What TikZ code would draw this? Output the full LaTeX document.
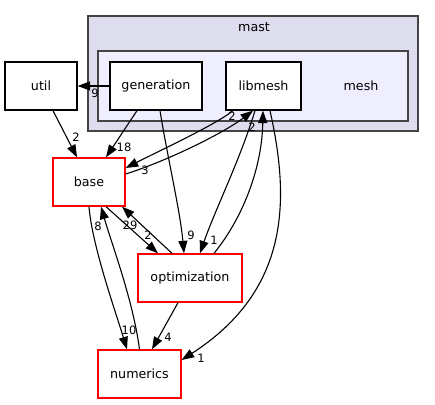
\documentclass[tikz,border=0pt]{standalone}
\usepackage{fontspec}
\setmainfont{DejaVu Sans}
\usetikzlibrary{arrows.meta,calc}
\definecolor{mastfill}{HTML}{DDDDEE}
\definecolor{meshfill}{HTML}{EEEEFF}
\definecolor{clborder}{HTML}{444444}
\begin{document}
\begin{tikzpicture}[x=1pt,y=-1pt,
  dirbox/.style={draw=black,line width=1.3pt,fill=white,minimum height=48pt,inner sep=0pt,font=\fontsize{12.7}{14}\selectfont},
  redbox/.style={draw=red,line width=1.3pt,fill=white,minimum height=48pt,inner sep=0pt,font=\fontsize{12.7}{14}\selectfont},
  cluster/.style={draw=clborder,line width=1.6pt},
  dep/.style={draw=black,line width=1.1pt,-{Triangle[length=12.5pt,width=9pt]}},
  lbl/.style={font=\fontsize{11.5}{13}\selectfont,inner sep=0pt},
  ctext/.style={font=\fontsize{12.7}{14}\selectfont,inner sep=0pt}]
\useasboundingbox (0,0) rectangle (435,404);
% clusters
\draw[cluster,fill=mastfill] (88,16) rectangle (418,131);
\node[ctext] (mastlbl) at (254,27.5) {mast};
\draw[cluster,fill=meshfill] (98,51) rectangle (408,121);
\node[ctext] (meshlbl) at (361,86) {mesh};
% nodes
\node[dirbox,minimum width=72pt] (util) at (41,86) {util};
\node[dirbox,minimum width=92pt] (generation) at (156,86) {generation};
\node[dirbox,minimum width=75pt] (libmesh) at (263.5,86) {libmesh};
\node[redbox,minimum width=72pt] (base) at (89,182) {base};
\node[redbox,minimum width=104pt] (optimization) at (190,278) {optimization};
\node[redbox,minimum width=83pt] (numerics) at (139.5,374) {numerics};
% edges
\draw[dep] (generation.west) -- (util.east);
\node[lbl] (l1) at (95,93) {9};
\draw[dep] ([xshift=12pt]util.south) -- ([xshift=-12pt]base.north);
\node[lbl] (l2) at (76,137) {2};
\draw[dep] ([xshift=-19pt]generation.south) -- ([xshift=17pt]base.north);
\node[lbl] (l3) at (124,147) {18};
\draw[dep] ([xshift=-30.5pt]libmesh.south) .. controls (215,125) and (165,148) .. ([yshift=14pt]base.east);
\node[lbl] (l4) at (232,116) {2};
\draw[dep] ([yshift=8pt]base.east) .. controls (170,160) and (225,132) .. ([xshift=-10.5pt]libmesh.south);
\node[lbl] (l5) at (145,170) {3};
\draw[dep] ([xshift=4pt]generation.south) .. controls (168,160) and (180,210) .. ([xshift=-6pt]optimization.north);
\node[lbl] (l6) at (191,235) {9};
\draw[dep] ([xshift=-8.5pt]libmesh.south) .. controls (240,160) and (215,210) .. ([xshift=10pt]optimization.north);
\node[lbl] (l7) at (214,240) {1};
\draw[dep] ([xshift=24pt]optimization.north) .. controls (245,215) and (262,165) .. ([xshift=-0.5pt]libmesh.south);
\node[lbl] (l8) at (252,127) {2};
\draw[dep] ([xshift=6.5pt]libmesh.south) .. controls (290,200) and (290,290) .. ([yshift=14pt]numerics.east);
\node[lbl] (l9) at (201,358) {1};
\draw[dep] ([xshift=17pt]base.south) -- ([xshift=-32pt]optimization.north);
\node[lbl] (l10) at (148,235) {2};
\draw[dep] ([xshift=-18pt]optimization.north) -- ([xshift=33pt]base.south);
\node[lbl] (l11) at (130,225) {29};
\draw[dep] (base.south) .. controls (92,245) and (115,310) .. ([xshift=-12.5pt]numerics.north);
\node[lbl] (l12) at (98,226) {8};
\draw[dep] (numerics.north) .. controls (133,300) and (112,245) .. ([xshift=12pt]base.south);
\node[lbl] (l13) at (129,330) {10};
\draw[dep] ([xshift=-12pt]optimization.south) -- ([xshift=12.5pt]numerics.north);
\node[lbl] (l14) at (168,337) {4};
\end{tikzpicture}
\end{document}
